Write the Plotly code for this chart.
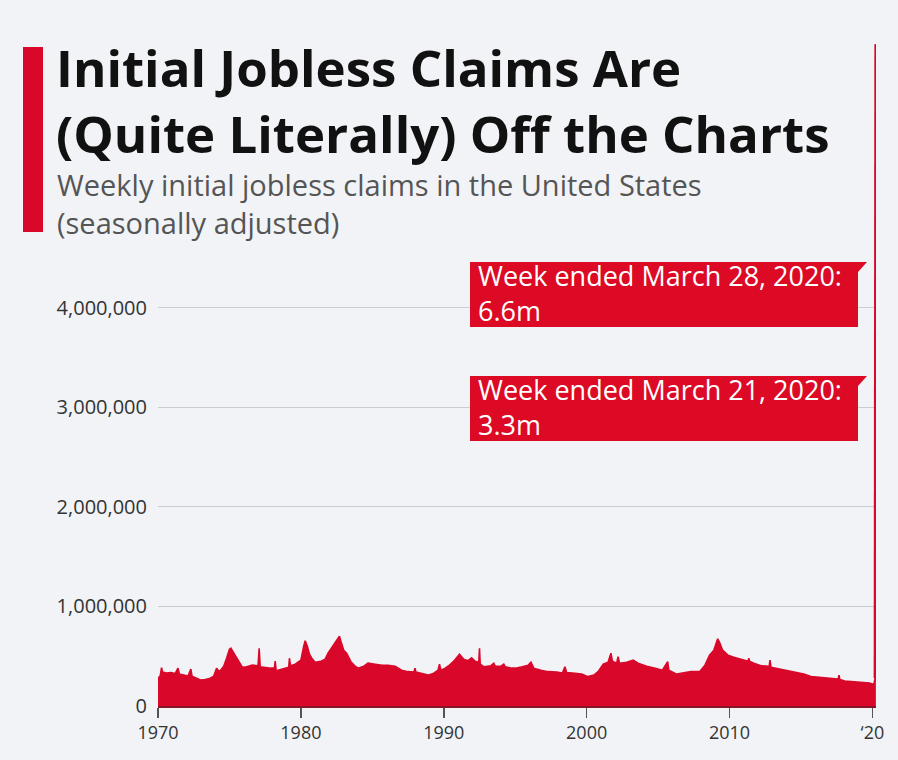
import plotly.graph_objects as go

# ---- data ----
years = [
    1970.00, 1970.15, 1970.25, 1970.32, 1970.60, 1970.90, 1971.20, 1971.40, 1971.50, 1971.80,
    1972.10, 1972.30, 1972.38, 1972.70, 1973.00, 1973.30, 1973.60, 1973.90, 1974.10, 1974.30,
    1974.60, 1974.80, 1975.00, 1975.10, 1975.30, 1975.50, 1975.70, 1975.90, 1976.20, 1976.60,
    1977.00, 1977.08, 1977.15, 1977.50, 1977.90, 1978.15, 1978.20, 1978.27, 1978.60, 1979.00,
    1979.15, 1979.20, 1979.27, 1979.60, 1980.00, 1980.20, 1980.30, 1980.45, 1980.60, 1980.76,
    1981.00, 1981.40, 1981.70, 1981.90, 1982.20, 1982.50, 1982.70, 1982.80, 1983.00, 1983.20,
    1983.50, 1983.80, 1984.00, 1984.40, 1984.70, 1985.20, 1985.70, 1986.10, 1986.60, 1987.05,
    1987.50, 1987.90, 1987.99, 1988.05, 1988.70, 1988.90, 1989.30, 1989.60, 1989.70, 1989.80,
    1990.10, 1990.40, 1990.70, 1991.10, 1991.40, 1991.70, 1991.95, 1992.20, 1992.45, 1992.50,
    1992.55, 1992.80, 1993.30, 1993.50, 1993.60, 1994.00, 1994.20, 1994.30, 1994.75, 1995.00,
    1995.50, 1995.90, 1996.10, 1996.30, 1996.80, 1997.30, 1997.90, 1998.30, 1998.48, 1998.60,
    1999.00, 1999.65, 2000.10, 2000.50, 2000.80, 2001.16, 2001.50, 2001.70, 2001.80, 2002.10,
    2002.20, 2002.30, 2002.80, 2003.26, 2003.60, 2004.20, 2004.80, 2005.30, 2005.67, 2005.75,
    2006.30, 2006.80, 2007.30, 2007.90, 2008.28, 2008.60, 2008.90, 2009.17, 2009.30, 2009.50,
    2009.90, 2010.30, 2010.60, 2011.00, 2011.30, 2011.35, 2011.40, 2011.70, 2012.20, 2012.78,
    2012.83, 2012.90, 2013.60, 2014.60, 2015.20, 2015.70, 2016.90, 2017.60, 2017.66, 2017.72,
    2018.07, 2019.00, 2019.80, 2020.10, 2020.19, 2020.22, 2020.24,
]
claims = [
    280, 300, 385, 340, 330, 335, 325, 380, 320, 310,
    300, 370, 300, 280, 260, 265, 275, 300, 380, 345,
    400, 480, 570, 580, 530, 480, 445, 390, 395, 410,
    405, 580, 395, 385, 380, 380, 450, 355, 370, 385,
    390, 480, 405, 420, 460, 600, 655, 600, 520, 480,
    440, 450, 470, 530, 590, 650, 700, 650, 560, 530,
    445, 400, 380, 400, 430, 420, 410, 410, 400, 360,
    345, 340, 380, 340, 320, 310, 330, 360, 420, 360,
    380, 410, 450, 520, 470, 455, 485, 450, 440, 580,
    420, 395, 405, 430, 400, 400, 420, 395, 380, 380,
    395, 410, 440, 380, 360, 345, 340, 330, 395, 335,
    330, 320, 295, 310, 345, 420, 440, 530, 450, 430,
    495, 430, 440, 460, 430, 400, 380, 360, 445, 360,
    320, 330, 345, 345, 410, 510, 560, 675, 640, 565,
    510, 490, 480, 460, 450, 480, 450, 430, 405, 400,
    460, 390, 370, 340, 320, 295, 280, 270, 310, 265,
    250, 240, 230, 215, 282, 3307, 6648,
]
claims = [c * 1000 for c in claims]

x_ticks = [1970, 1980, 1990, 2000, 2010, 2020]
x_tick_labels = ["1970", "1980", "1990", "2000", "2010", "\u201820"]
y_ticks = [0, 1_000_000, 2_000_000, 3_000_000, 4_000_000]
y_tick_labels = ["0", "1,000,000", "2,000,000", "3,000,000", "4,000,000"]

title_lines = ["Initial Jobless Claims Are", "(Quite Literally) Off the Charts"]
subtitle_lines = ["Weekly initial jobless claims in the United States", "(seasonally adjusted)"]

RED = "#d9082a"
BOX_RED = "#dc0a24"
BG = "#f1f3f7"

# ---- layout geometry (pixels) ----
W, H = 898, 760
ML, MR, MT, MB = 158, 22, 43, 54
PW, PH = W - ML - MR, H - MT - MB


def px(x):
    return (x - ML) / PW


def py(y):
    return (H - MB - y) / PH


fig = go.Figure()
fig.add_trace(go.Scatter(
    x=years, y=claims, mode="lines", fill="tozeroy",
    fillcolor=RED, line=dict(color=RED, width=1.6),
    hoverinfo="skip", showlegend=False,
))
# emphasise the final spike
fig.add_trace(go.Scatter(
    x=years[-3:], y=claims[-3:], mode="lines",
    line=dict(color=RED, width=3),
    hoverinfo="skip", showlegend=False,
))

FONT = "Open Sans"
shapes = []
annotations = []

# left accent bar
shapes.append(dict(type="rect", xref="paper", yref="paper",
                   x0=px(23), x1=px(43), y0=py(232), y1=py(47),
                   fillcolor=RED, line=dict(width=0), layer="above"))

# title and subtitle (one text block each)
annotations.append(dict(xref="paper", yref="paper", x=px(54), y=py(100),
                        xanchor="left", yanchor="middle", showarrow=False, align="left",
                        text="<br>".join(f"<b>{t}</b>" for t in title_lines),
                        font=dict(family=FONT, size=51, color="#111111")))
annotations.append(dict(xref="paper", yref="paper", x=px(55), y=py(203),
                        xanchor="left", yanchor="middle", showarrow=False, align="left",
                        text="<br>".join(subtitle_lines),
                        font=dict(family=FONT, size=29, color="#555555")))

# callout boxes
last_label = f"{claims[-1] / 1e6:.1f}m"
prev_label = f"{claims[-2] / 1e6:.1f}m"
boxes = [
    (262, "Week ended March 28, 2020:", last_label),
    (376, "Week ended March 21, 2020:", prev_label),
]
for top, l1, l2 in boxes:
    bx0, bx1, tail, bot = 470, 858, 867, top + 65
    path = (f"M {px(bx0)},{py(top)} L {px(tail)},{py(top)} L {px(bx1)},{py(top + 10)} "
            f"L {px(bx1)},{py(bot)} L {px(bx0)},{py(bot)} Z")
    shapes.append(dict(type="path", xref="paper", yref="paper", path=path,
                       fillcolor=BOX_RED, line=dict(width=0), layer="above"))
    annotations.append(dict(xref="paper", yref="paper", x=px(476), y=py(top + 31),
                            xanchor="left", yanchor="middle", showarrow=False, align="left",
                            text=f"{l1}<br>{l2}",
                            font=dict(family=FONT, size=27, color="#ffffff")))

fig.update_layout(
    width=W, height=H,
    margin=dict(l=ML, r=MR, t=MT, b=MB),
    paper_bgcolor=BG, plot_bgcolor=BG,
    shapes=shapes, annotations=annotations,
    font=dict(family=FONT, color="#333333"),
    xaxis=dict(range=[1970, 2020.25], tickvals=x_ticks, ticktext=x_tick_labels,
               ticks="outside", ticklen=10, tickwidth=1.5, tickcolor="#555555",
               showgrid=False, zeroline=False, showline=True, linecolor="#8a1326", linewidth=1.5,
               tickfont=dict(size=18, color="#333333")),
    yaxis=dict(range=[0, 6_660_000], tickvals=y_ticks, ticktext=y_tick_labels,
               showgrid=True, gridcolor="#c9ccd1", gridwidth=1, zeroline=False,
               showline=False, ticks="", ticklabelstandoff=10,
               tickfont=dict(size=20, color="#333333")),
)

fig.write_html(
    "out.html",
    config={"displayModeBar": False, "staticPlot": True},
    post_script="document.body.style.margin='0';document.body.style.background='" + BG + "';",
)
